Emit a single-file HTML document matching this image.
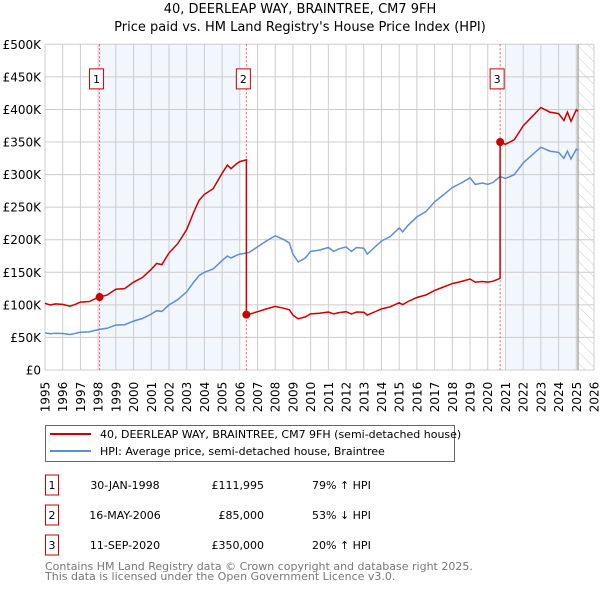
<!DOCTYPE html>
<html><head><meta charset="utf-8"><style>
body{margin:0;background:#fff;font-family:"DejaVu Sans","Liberation Sans",sans-serif;}
#wrap{position:relative;width:600px;height:590px;overflow:hidden;}
svg text{font-family:"DejaVu Sans","Liberation Sans",sans-serif;}
</style></head><body><div id="wrap">
<svg id="chart" width="600" height="590"></svg>
</div>
<script>
const hpiYears=[1995,1995.3,1995.6,1996,1996.4,1996.7,1997,1997.5,1998,1998.5,1999,1999.5,2000,2000.5,2001,2001.3,2001.6,2002,2002.5,2003,2003.4,2003.7,2004,2004.5,2005,2005.3,2005.5,2005.8,2006,2006.5,2007,2007.5,2008,2008.5,2008.8,2009,2009.3,2009.7,2010,2010.5,2011,2011.3,2011.6,2012,2012.3,2012.6,2013,2013.2,2013.6,2014,2014.5,2015,2015.2,2015.5,2016,2016.5,2017,2017.5,2018,2018.5,2019,2019.3,2019.7,2020,2020.3,2020.7,2021,2021.5,2022,2022.5,2023,2023.5,2024,2024.3,2024.5,2024.7,2025,2025.1];
const hpiValues=[57000,55500,56500,56000,54500,56000,58000,58500,62000,64000,69000,69500,75000,79000,86000,91000,90000,100000,108000,120000,135000,145000,150000,155000,168000,175000,172000,176000,178000,180000,189000,198000,206000,200000,195000,178000,166000,172000,182000,184000,188000,182000,186000,189000,182000,188000,187000,178000,188000,198000,205000,218000,212000,222000,235000,243000,258000,269000,280000,287000,295000,285000,287000,285000,288000,297000,294000,300000,318000,330000,342000,336000,334000,325000,336000,324000,339000,337000];
const saleDates=[1998.08,2006.37,2020.70];
const salePrices=[111995,85000,350000];
const saleLabels=["1","2","3"];
const yTicks=[0,50000,100000,150000,200000,250000,300000,350000,400000,450000,500000];
const yTickLabels=["£0","£50K","£100K","£150K","£200K","£250K","£300K","£350K","£400K","£450K","£500K"];
const xTicks=[1995,1996,1997,1998,1999,2000,2001,2002,2003,2004,2005,2006,2007,2008,2009,2010,2011,2012,2013,2014,2015,2016,2017,2018,2019,2020,2021,2022,2023,2024,2025,2026];
const tableDates=["30-JAN-1998","16-MAY-2006","11-SEP-2020"];
const tablePrices=["£111,995","£85,000","£350,000"];
const tableHpi=["79% ↑ HPI","53% ↓ HPI","20% ↑ HPI"];

const svg=document.getElementById('chart');
const NS='http://www.w3.org/2000/svg';
const L=45,R=594,T=44.3,B=370;
const X=t=>L+(t-1995)/(2026-1995)*(R-L);
const Y=v=>B-v/500000*(B-T);
function mk(tag,attrs,parent){const e=document.createElementNS(NS,tag);for(const k in attrs)e.setAttribute(k,attrs[k]);(parent||svg).appendChild(e);return e;}
function hpiAt(t){for(let i=0;i<hpiYears.length-1;i++){if(t>=hpiYears[i]&&t<=hpiYears[i+1]){const f=(t-hpiYears[i])/(hpiYears[i+1]-hpiYears[i]);return hpiValues[i]+f*(hpiValues[i+1]-hpiValues[i]);}}return hpiValues[hpiValues.length-1];}

let e;
e=mk('rect',{x:X(saleDates[0]),y:T,width:X(2006)-X(saleDates[0]),height:B-T,fill:'#eef3fc',opacity:0.75});


e=mk('rect',{x:X(2021),y:T,width:X(2025.1)-X(2021),height:B-T,fill:'#eef3fc',opacity:0.75});


const defs=mk('defs',{});
const pat=mk('pattern',{id:'hatch',width:8,height:8,patternUnits:'userSpaceOnUse',patternTransform:'rotate(-45)'},defs);
mk('line',{x1:0,y1:0,x2:0,y2:8,stroke:'#cccccc','stroke-width':1},pat);
e=mk('rect',{x:X(2025.1),y:T,width:R-X(2025.1),height:B-T,fill:'url(#hatch)'});


xTicks.forEach((t,i)=>{
  e=mk('line',{x1:X(t),x2:X(t),y1:T,y2:B,stroke:'#cccccc','stroke-width':1});
  
  
  e=mk('text',{x:0,y:0,transform:`translate(${X(t)+4.5},${B+27}) rotate(-90)`,'font-size':12,fill:'#000','text-anchor':'middle'});
  e.textContent=t;
  
  
});
yTicks.forEach((v,i)=>{
  e=mk('line',{x1:L,x2:R,y1:Y(v),y2:Y(v),stroke:'#cccccc','stroke-width':1});
  
  
  e=mk('text',{x:41,y:Y(v)+4.5,'font-size':12,fill:'#000','text-anchor':'end'});
  e.textContent=yTickLabels[i];
  
  
});
e=mk('line',{x1:X(2025.1),x2:X(2025.1),y1:T,y2:B,stroke:'#888','stroke-width':1});


saleDates.forEach((d,i)=>{
  e=mk('line',{x1:X(d),x2:X(d),y1:T,y2:B,stroke:'#ff5555','stroke-width':1,'stroke-dasharray':'2,2'});
  
  
  e=mk('rect',{x:X(d)-10,y:Y(450000)-8,width:14,height:20,fill:'#fff',stroke:'#cc0000','stroke-width':1});
  
  
  e=mk('text',{x:X(d)-3,y:Y(450000)+6,'font-size':11,'text-anchor':'middle',fill:'#000'});
  e.textContent=saleLabels[i];
  
  
});
let pts=hpiYears.map((t,i)=>X(t).toFixed(1)+','+Y(hpiValues[i]).toFixed(1)).join(' ');
e=mk('polyline',{points:pts,fill:'none',stroke:'#5b8fd4','stroke-width':1.5});


const ratios=saleDates.map((d,i)=>salePrices[i]/hpiAt(d));
function seg(t){let k=0;for(let i=0;i<saleDates.length;i++)if(t>=saleDates[i])k=i;return k;}
let rp=[];
const allT=hpiYears.concat(saleDates).sort((a,b)=>a-b);
allT.forEach(t=>{
  const si=saleDates.indexOf(t);
  if(si>0){rp.push([t,hpiAt(t)*ratios[si-1]]);}
  rp.push([t,hpiAt(t)*ratios[seg(t)]]);
});
e=mk('polyline',{points:rp.map(p=>X(p[0]).toFixed(1)+','+Y(p[1]).toFixed(1)).join(' '),fill:'none',stroke:'#cc0000','stroke-width':1.5});


saleDates.forEach((d,i)=>{
  e=mk('circle',{cx:X(d),cy:Y(salePrices[i]),r:4,fill:'#cc0000'});
  
  
});
e=mk('text',{x:300,y:13,'font-size':13,'text-anchor':'middle',fill:'#000'});
e.textContent='40, DEERLEAP WAY, BRAINTREE, CM7 9FH';


e=mk('text',{x:300,y:31,'font-size':13,'text-anchor':'middle',fill:'#000'});
e.textContent="Price paid vs. HM Land Registry's House Price Index (HPI)";


const lg=mk('g',{});


mk('rect',{x:45.5,y:425.5,width:409,height:36,fill:'#fff',stroke:'#666','stroke-width':1},lg);
mk('line',{x1:50,x2:91,y1:434,y2:434,stroke:'#cc0000','stroke-width':2},lg);
e=mk('text',{x:100,y:438,'font-size':11,fill:'#000'},lg);
e.textContent='40, DEERLEAP WAY, BRAINTREE, CM7 9FH (semi-detached house)';


mk('line',{x1:50,x2:91,y1:451,y2:451,stroke:'#5b8fd4','stroke-width':2},lg);
e=mk('text',{x:100,y:455,'font-size':11,fill:'#000'},lg);
e.textContent='HPI: Average price, semi-detached house, Braintree';


tableDates.forEach((d,i)=>{
  const y=483+i*30;
  e=mk('rect',{x:45.5,y:y-8,width:13,height:20,fill:'#fff',stroke:'#cc0000','stroke-width':1});
  
  
  e=mk('text',{x:52,y:y+6,'font-size':11,'text-anchor':'middle'});e.textContent=saleLabels[i];
  
  
  e=mk('text',{x:125,y:y+6,'font-size':11,'text-anchor':'middle'});e.textContent=d;
  
  
  e=mk('text',{x:264,y:y+6,'font-size':11,'text-anchor':'end'});e.textContent=tablePrices[i];
  
  
  e=mk('text',{x:312,y:y+6,'font-size':11});e.textContent=tableHpi[i];
  
  
});
e=mk('text',{x:45,y:570,'font-size':11,fill:'#777'});
e.textContent='Contains HM Land Registry data © Crown copyright and database right 2025.';


e=mk('text',{x:45,y:580,'font-size':11,fill:'#777'});
e.textContent='This data is licensed under the Open Government Licence v3.0.';


</script></body></html>
